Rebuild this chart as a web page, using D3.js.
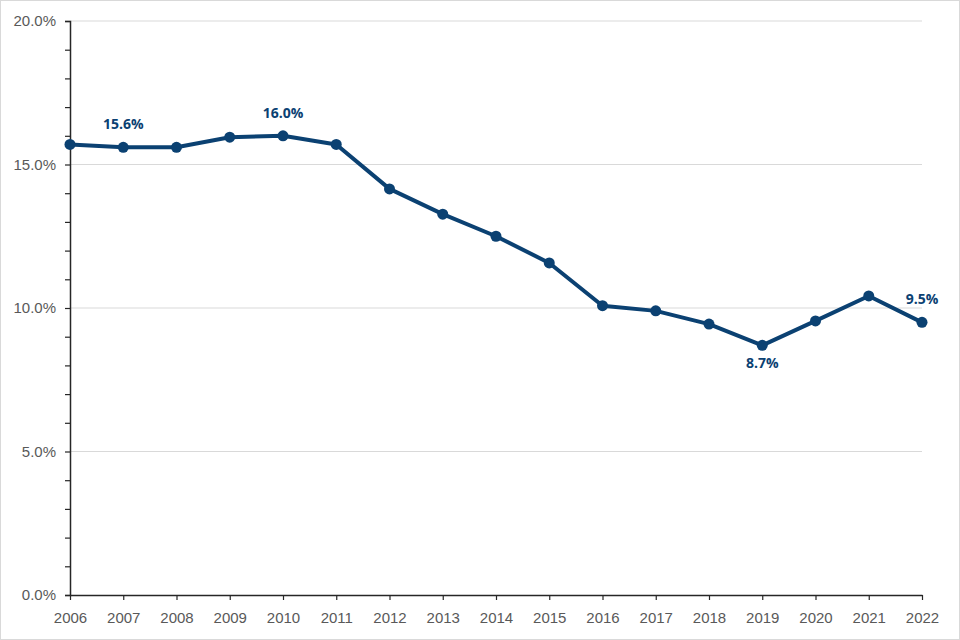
<!DOCTYPE html>
<html>
<head>
<meta charset="utf-8">
<script src="https://cdn.jsdelivr.net/npm/d3@7"></script>
<style>
  body { margin: 0; background: #fff; }
  svg { display: block; font-family: "Open Sans", sans-serif; }
</style>
</head>
<body>
<div id="chart"></div>
<script>
// Data
const years = [2006, 2007, 2008, 2009, 2010, 2011, 2012, 2013, 2014, 2015, 2016, 2017, 2018, 2019, 2020, 2021, 2022];
const rates = [15.7, 15.6, 15.6, 15.95, 16.0, 15.7, 14.15, 13.27, 12.5, 11.57, 10.08, 9.9, 9.44, 8.7, 9.55, 10.42, 9.5];
const yTicks = [0, 5, 10, 15, 20];
const labelled = [
  {year: 2007, text: '15.6%', pos: 'above'},
  {year: 2010, text: '16.0%', pos: 'above'},
  {year: 2019, text: '8.7%', pos: 'below'},
  {year: 2022, text: '9.5%', pos: 'above'}
];

const W = 960, H = 640;
const margin = {top: 21, right: 38, bottom: 45, left: 70};
const width = W - margin.left - margin.right;
const height = H - margin.top - margin.bottom;
const lineColor = '#0b4172';

let svg = d3.select('#chart')
  .append('svg')
  .attr('width', W)
  .attr('height', H);

// outer border
svg.append('rect')
  .attr('x', 0.5).attr('y', 0.5)
  .attr('width', W - 1).attr('height', H - 1)
  .attr('fill', 'none')
  .attr('stroke', '#d9d9d9');

let g = svg.append('g')
  .attr('transform', 'translate(' + margin.left + ',' + margin.top + ')');

// Scales
let x = d3.scaleLinear()
  .domain([2006, 2022])
  .range([0, width]);

let y = d3.scaleLinear()
  .domain([0, 20])
  .range([height, 0]);

// Gridlines
g.selectAll('.grid')
  .data(yTicks.filter(d => d > 0))
  .enter()
  .append('line')
  .attr('x1', 0).attr('x2', width)
  .attr('y1', d => y(d)).attr('y2', d => y(d))
  .attr('stroke', '#d9d9d9')
  .attr('stroke-width', 1);

// Y axis with minor ticks every 1%
let yAxis = g.append('g')
  .call(d3.axisLeft(y).tickValues(d3.range(0, 21, 1)).tickSize(5)
    .tickFormat(d => d % 5 === 0 ? d.toFixed(1) + '%' : ''));
yAxis.select('.domain').attr('stroke', '#262626').attr('stroke-width', 1.5);
yAxis.selectAll('.tick line').attr('stroke', '#262626').attr('stroke-width', 1.2);
yAxis.selectAll('.tick text')
  .attr('x', -14)
  .attr('fill', '#595959')
  .style('font-size', '15px');

// X axis
let xAxis = g.append('g')
  .attr('transform', 'translate(0,' + height + ')')
  .call(d3.axisBottom(x).tickValues(years).tickSize(5).tickSizeOuter(0).tickFormat(d3.format('d')));
xAxis.select('.domain').attr('stroke', '#262626').attr('stroke-width', 1.5);
xAxis.selectAll('.tick line').attr('stroke', '#262626').attr('stroke-width', 1.2);
xAxis.selectAll('.tick text')
  .attr('y', 17)
  .attr('fill', '#595959')
  .style('font-size', '15px');

// Line
let pts = years.map((yr, i) => ({year: yr, value: rates[i]}));

g.append('path')
  .datum(pts)
  .attr('fill', 'none')
  .attr('stroke', lineColor)
  .attr('stroke-width', 4)
  .attr('stroke-linejoin', 'round')
  .attr('d', d3.line().x(d => x(d.year)).y(d => y(d.value)));

g.selectAll('.dot')
  .data(pts)
  .enter()
  .append('circle')
  .attr('r', 5.5)
  .attr('cx', d => x(d.year))
  .attr('cy', d => y(d.value))
  .attr('fill', lineColor);

// Data labels
g.selectAll('.lbl')
  .data(labelled)
  .enter()
  .append('text')
  .attr('x', d => x(d.year))
  .attr('y', d => {
    let v = rates[years.indexOf(d.year)];
    return d.pos === 'above' ? y(v) - 18 : y(v) + 23;
  })
  .attr('text-anchor', 'middle')
  .attr('fill', lineColor)
  .style('font-size', '14px')
  .style('font-weight', 'bold')
  .text(d => d.text);
</script>
</body>
</html>
